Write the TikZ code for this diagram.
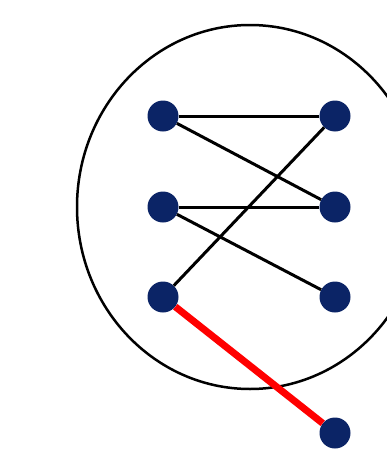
\documentclass[tikz,border=0pt]{standalone}
\usetikzlibrary{shapes.geometric}
\definecolor{navy}{HTML}{0B2466}
\begin{document}
\begin{tikzpicture}[x=1pt,y=-1pt,
  vtx/.style={circle,fill=navy,draw=none,minimum size=31pt,inner sep=0pt},
  edge/.style={line width=3pt,black},
  redge/.style={line width=7pt,red}]
\useasboundingbox (0,0) rectangle (387,450);
\clip (0,0) rectangle (387,450);
\node[draw=black,line width=2.5pt,ellipse,minimum width=346pt,minimum height=364pt,inner sep=0pt] (E) at (250,207) {};
\node[vtx] (l1) at (163,116) {};
\node[vtx] (l2) at (163,207) {};
\node[vtx] (l3) at (163,297) {};
\node[vtx] (r1) at (335,116) {};
\node[vtx] (r2) at (335,207) {};
\node[vtx] (r3) at (335,297) {};
\node[vtx] (r4) at (335,433) {};
\draw[edge] (l1) -- (r1);
\draw[edge] (l1) -- (r2);
\draw[edge] (l2) -- (r2);
\draw[edge] (l2) -- (r3);
\draw[edge] (l3) -- (r1);
\draw[redge] (l3) -- (r4);
\end{tikzpicture}
\end{document}
